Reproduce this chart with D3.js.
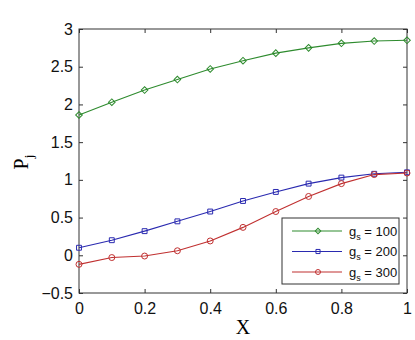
<!DOCTYPE html>
<html><head><meta charset="utf-8">
<script src="https://cdn.jsdelivr.net/npm/d3@7"></script>
<style>body{margin:0;background:#fff;}</style>
</head><body>
<svg id="c" width="415" height="340"></svg>
<script>
const xVals = [0, 0.1, 0.2, 0.3, 0.4, 0.5, 0.6, 0.7, 0.8, 0.9, 1.0];
const g100 = [1.86, 2.03, 2.19, 2.33, 2.47, 2.58, 2.68, 2.75, 2.81, 2.84, 2.85];
const g200 = [0.10, 0.20, 0.32, 0.45, 0.58, 0.72, 0.84, 0.95, 1.03, 1.08, 1.10];
const g300 = [-0.12, -0.03, -0.01, 0.06, 0.19, 0.37, 0.58, 0.78, 0.95, 1.07, 1.09];
const seriesNames = ["100", "200", "300"];
const xTicks = [0, 0.2, 0.4, 0.6, 0.8, 1];
const yTicks = [-0.5, 0, 0.5, 1, 1.5, 2, 2.5, 3];

const colors = ["#2e8b2e", "#2a2ab0", "#c03030"];
const shapes = [d3.symbolSquare, d3.symbolSquare, d3.symbolCircle];
const rots = [45, 0, 0];
const sizes = [22, 24, 28];
const series = [g100, g200, g300];

const svg = d3.select("#c");
const L = 79, R = 407, T = 29, B = 293;
const x = d3.scaleLinear().domain([0, 1]).range([L, R]);
const y = d3.scaleLinear().domain([-0.5, 3]).range([B, T]);

const font = "Liberation Sans, Arial, sans-serif";
svg.append("rect").attr("x", L).attr("y", T).attr("width", R - L).attr("height", B - T)
  .attr("fill", "none").attr("stroke", "#333").attr("stroke-width", 1);

const tl = 4;
const axB = svg.append("g").attr("transform", `translate(0,${B})`)
  .call(d3.axisBottom(x).tickValues(xTicks).tickSizeInner(-tl).tickSizeOuter(0).tickPadding(10).tickFormat(d3.format("")));
const axT = svg.append("g").attr("transform", `translate(0,${T})`)
  .call(d3.axisTop(x).tickValues(xTicks).tickSizeInner(-tl).tickSizeOuter(0).tickFormat(""));
const axL = svg.append("g").attr("transform", `translate(${L},0)`)
  .call(d3.axisLeft(y).tickValues(yTicks).tickSizeInner(-tl).tickSizeOuter(0).tickPadding(6).tickFormat(d3.format("")));
const axR = svg.append("g").attr("transform", `translate(${R},0)`)
  .call(d3.axisRight(y).tickValues(yTicks).tickSizeInner(-tl).tickSizeOuter(0).tickFormat(""));
[axB, axT, axL, axR].forEach(a => {
  a.select(".domain").remove();
  a.selectAll("line").attr("stroke", "#333");
  a.selectAll("text").attr("font-family", font).attr("font-size", 16).attr("fill", "#111");
});

const line = d3.line().x((d, i) => x(xVals[i])).y(d => y(d));
series.forEach((s, k) => {
  svg.append("path").datum(s).attr("d", line).attr("fill", "none")
    .attr("stroke", colors[k]).attr("stroke-width", 1.1);
  svg.selectAll(null).data(s).enter().append("path")
    .attr("transform", (d, i) => `translate(${x(xVals[i])},${y(d)}) rotate(${rots[k]})`)
    .attr("d", d3.symbol().type(shapes[k]).size(sizes[k]))
    .attr("fill", "none").attr("stroke", colors[k]).attr("stroke-width", 1);
});

svg.append("text").attr("x", (L + R) / 2).attr("y", 334).attr("text-anchor", "middle")
  .attr("font-family", "Liberation Serif, Times New Roman, serif").attr("font-size", 20).text("X");
const yl = svg.append("text").attr("transform", "translate(28,162) rotate(-90)")
  .attr("text-anchor", "middle").attr("font-family", "Liberation Serif, Times New Roman, serif").attr("font-size", 20);
yl.append("tspan").text("P");
yl.append("tspan").attr("font-size", 13).attr("dy", 5).text("j");

const lg = svg.append("g");
lg.append("rect").attr("x", 282).attr("y", 218).attr("width", 117).attr("height", 66)
  .attr("fill", "#fff").attr("stroke", "#333").attr("stroke-width", 1);
seriesNames.forEach((n, k) => {
  const yy = 231 + k * 20.5;
  lg.append("line").attr("x1", 292).attr("x2", 342).attr("y1", yy).attr("y2", yy)
    .attr("stroke", colors[k]).attr("stroke-width", 1.1);
  lg.append("path").attr("transform", `translate(318,${yy}) rotate(${rots[k]})`)
    .attr("d", d3.symbol().type(shapes[k]).size(sizes[k] * 0.7))
    .attr("fill", "none").attr("stroke", colors[k]).attr("stroke-width", 1);
  const t = lg.append("text").attr("x", 349).attr("y", yy + 4.5)
    .attr("font-family", font).attr("font-size", 13).attr("fill", "#111");
  t.append("tspan").text("g");
  t.append("tspan").attr("font-size", 9).attr("dy", 4).text("s");
  t.append("tspan").attr("dy", -4).text("\u00a0= " + n);
});
</script>
</body></html>
